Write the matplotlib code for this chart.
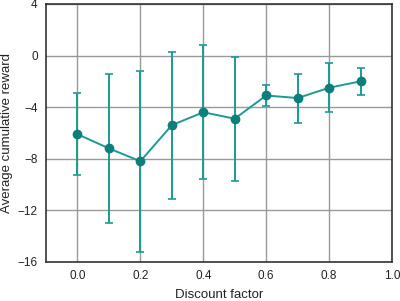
import matplotlib
matplotlib.use("Agg")
import matplotlib.pyplot as plt

# discount factor vs average cumulative reward
gamma  = [0.0, 0.1, 0.2, 0.3, 0.4, 0.5, 0.6, 0.7, 0.8, 0.9]
reward = [-6.1, -7.2, -8.2, -5.4, -4.4, -4.9, -3.1, -3.3, -2.5, -2.0]
err    = [3.2, 5.8, 7.0, 5.7, 5.2, 4.8, 0.85, 1.9, 1.9, 1.05]

plt.rcParams["font.family"] = ["Liberation Sans", "DejaVu Sans"]

fig = plt.figure(figsize=(4.0, 3.01), dpi=100)
ax = fig.add_axes([0.115, 0.13, 0.865, 0.857])

ax.errorbar(gamma, reward, yerr=err, color="#1c9a95", linewidth=1.4,
            elinewidth=1.4, capsize=3, capthick=1.2, marker="o",
            markersize=6, markerfacecolor="#0d7f7a", markeredgecolor="#0d7f7a",
            zorder=3)

ax.set_xlim(-0.1, 1.0)
ax.set_ylim(-16, 4)
ax.set_xticks([0.0, 0.2, 0.4, 0.6, 0.8, 1.0])
ax.set_yticks([-16, -12, -8, -4, 0, 4])
ax.set_xticklabels(["0.0", "0.2", "0.4", "0.6", "0.8", "1.0"])
ax.grid(True, color="#999999", linewidth=1.0)
ax.set_axisbelow(True)
ax.tick_params(length=0, labelsize=8.5, colors="#222222")
ax.tick_params(axis="x", pad=6)
ax.tick_params(axis="y", pad=6)
for s in ax.spines.values():
    s.set_color("#333333")
    s.set_linewidth(1.2)

ax.set_xlabel("Discount factor", fontsize=9.5, labelpad=5, color="#222222")
ax.set_ylabel("Average cumulative reward", fontsize=9.5, labelpad=3, color="#222222")

fig.savefig("out.png", dpi=100)
